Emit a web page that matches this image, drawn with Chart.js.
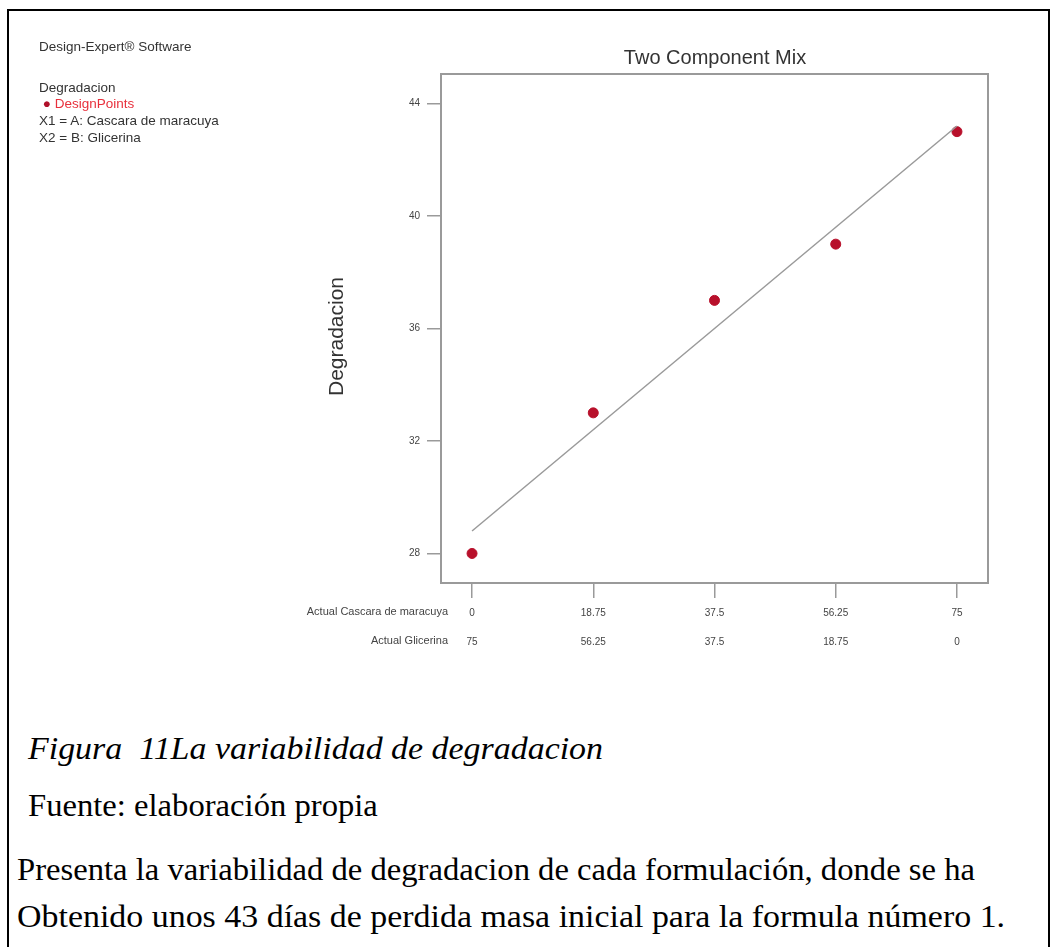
<!DOCTYPE html>
<html>
<head>
<meta charset="utf-8">
<script src="https://cdn.jsdelivr.net/npm/chart.js@4.4.1/dist/chart.umd.min.js"></script>
<style>
  html, body { margin: 0; padding: 0; background: #fff; }
  body { width: 1056px; height: 947px; position: relative; overflow: hidden; }
  .frame { position: absolute; left: 7px; top: 9px; width: 1043px; height: 960px; border: 2px solid #000; border-bottom: none; box-sizing: border-box; }
  #chart { position: absolute; left: 0; top: 0; }
  .narrow { font-family: 'Liberation Sans Narrow', 'Arial Narrow', 'Liberation Sans', sans-serif; position: absolute; white-space: nowrap; }
  .legend { left: 39px; font-size: 13.5px; color: #333; }
  .title { left: 0; width: 1430px; text-align: center; top: 46px; font-size: 20px; color: #333; }
  .serif { font-family: 'Liberation Serif', 'Times New Roman', serif; position: absolute; white-space: nowrap; color: #000; font-size: 32px; transform-origin: left center; transform: scaleX(1.02); }
</style>
</head>
<body>
<div class="frame"></div>
<canvas id="chart" width="1056" height="680"></canvas>

<div class="narrow legend" style="top:39px">Design-Expert® Software</div>
<div class="narrow legend" style="top:80px">Degradacion</div>
<div class="narrow legend" style="top:96px; color:#e8303c">&nbsp;<span style="color:#b0102a">●</span> DesignPoints</div>
<div class="narrow legend" style="top:113px">X1 = A: Cascara de maracuya</div>
<div class="narrow legend" style="top:130px">X2 = B: Glicerina</div>
<div class="narrow title">Two Component Mix</div>

<div class="serif" style="left:28px; top:730px; font-style:italic; transform:scaleX(1.06)">Figura&nbsp; 11La variabilidad de degradacion</div>
<div class="serif" style="left:28px; top:787px">Fuente: elaboración propia</div>
<div class="serif" style="left:17px; top:851px">Presenta la variabilidad de degradacion de cada formulación, donde se ha</div>
<div class="serif" style="left:17px; top:898px; transform:scaleX(1.06)">Obtenido unos 43 días de perdida masa inicial para la formula número 1.</div>

<script>
// Two Component Mix - degradation vs. composition
const cascara = [0, 18.75, 37.5, 56.25, 75];
const glicerina = [75, 56.25, 37.5, 18.75, 0];
const degradacion = [28, 33, 37, 39, 43];
const fitX = [0, 75];
const fitY = [28.8, 43.2];
const yTicks = [28, 32, 36, 40, 44];
const rowLabels = ['Actual Cascara de maracuya', 'Actual Glicerina'];

const fontFamily = "'Liberation Sans Narrow', 'Arial Narrow', 'Liberation Sans', sans-serif";
const gray = '#9a9a9a';

// frame around the plot area + y title + row labels for the x axis
const decorations = {
  id: 'decorations',
  afterDraw(chart) {
    const { ctx, chartArea: a } = chart;
    ctx.save();
    ctx.strokeStyle = gray;
    ctx.lineWidth = 2;
    ctx.strokeRect(a.left, a.top, a.right - a.left, a.bottom - a.top);

    ctx.fillStyle = '#444';
    ctx.font = '11px ' + fontFamily;
    ctx.textAlign = 'right';
    ctx.textBaseline = 'middle';
    ctx.fillText(rowLabels[0], a.left + 7, a.bottom + 29);
    ctx.fillText(rowLabels[1], a.left + 7, a.bottom + 58);

    ctx.translate(337, (a.top + a.bottom) / 2 + 8);
    ctx.rotate(-Math.PI / 2);
    ctx.textAlign = 'center';
    ctx.fillStyle = '#333';
    ctx.font = '21px ' + fontFamily;
    ctx.fillText('Degradacion', 0, 0);
    ctx.restore();
  }
};

new Chart(document.getElementById('chart'), {
  type: 'scatter',
  data: {
    datasets: [
      {
        type: 'line',
        data: fitX.map((x, i) => ({ x, y: fitY[i] })),
        borderColor: gray,
        borderWidth: 1.5,
        pointRadius: 0,
        fill: false
      },
      {
        data: cascara.map((x, i) => ({ x, y: degradacion[i] })),
        backgroundColor: '#b8102b',
        borderColor: '#b8102b',
        pointRadius: 5,
        pointHoverRadius: 5
      }
    ]
  },
  options: {
    responsive: false,
    animation: false,
    layout: { padding: { top: 74, right: 68, left: 0, bottom: 0 } },
    plugins: { legend: { display: false }, tooltip: { enabled: false } },
    scales: {
      x: {
        type: 'linear',
        min: -4.8,
        max: 79.8,
        afterBuildTicks: s => { s.ticks = cascara.map(v => ({ value: v })); },
        afterFit: s => { s.height = 680 - 583; },
        border: { display: false },
        grid: { drawOnChartArea: false, drawTicks: true, tickLength: 15, color: gray, lineWidth: 1.5 },
        ticks: {
          color: '#444',
          padding: 1,
          maxRotation: 0,
          autoSkip: false,
          font: { family: fontFamily, size: 10, lineHeight: 2.9 },
          callback: (v, i) => [String(cascara[i]), String(glicerina[i])]
        }
      },
      y: {
        min: 26.95,
        max: 45.05,
        afterBuildTicks: s => { s.ticks = yTicks.map(v => ({ value: v })); },
        afterFit: s => { s.width = 441; },
        border: { display: false },
        grid: { drawOnChartArea: false, drawTicks: true, tickLength: 14, color: gray, lineWidth: 1.5 },
        ticks: { color: '#444', font: { family: fontFamily, size: 10 }, padding: 7 }
      }
    }
  },
  plugins: [decorations]
});
</script>
</body>
</html>
